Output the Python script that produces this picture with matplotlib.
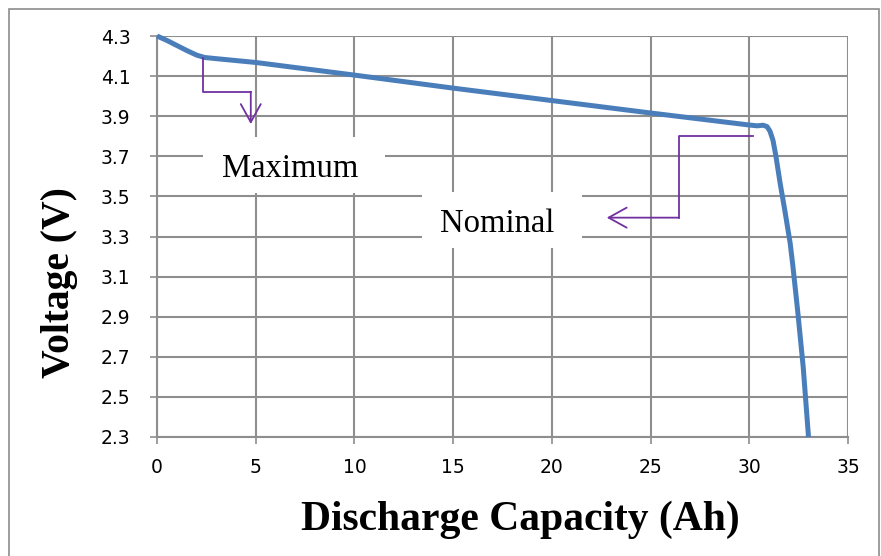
import matplotlib.pyplot as plt
import matplotlib.patches as patches
import numpy as np

# discharge curve
capacity = [0, 0.5, 1.0, 1.5, 2.0, 2.4, 3.0, 5, 10, 15, 20, 25, 30, 30.4, 30.7,
            30.9, 31.05, 31.2, 31.35, 31.56, 31.8, 32.07, 32.2, 32.45, 32.73, 33.0]
voltage = [4.30, 4.278, 4.253, 4.228, 4.205, 4.193, 4.187, 4.168, 4.105, 4.04, 3.978,
           3.916, 3.856, 3.852, 3.855, 3.848, 3.825, 3.78, 3.70, 3.567, 3.43, 3.267,
           3.16, 2.93, 2.65, 2.30]

x_ticks = [0, 5, 10, 15, 20, 25, 30, 35]
y_ticks = [2.3, 2.5, 2.7, 2.9, 3.1, 3.3, 3.5, 3.7, 3.9, 4.1, 4.3]

# annotation paths (Ah, V)
max_path_x = [2.31, 2.31, 4.75, 4.75]
max_path_y = [4.19, 4.022, 4.022, 3.861]
nom_path_x = [30.17, 26.42, 26.42, 22.78]
nom_path_y = [3.803, 3.803, 3.394, 3.394]

grid_col = '#8e8e8e'
purple = '#7030A0'
blue = '#4a7ebb'

fig = plt.figure(figsize=(8.81, 5.56), dpi=100)
ax = fig.add_axes([157 / 881, 1 - 437 / 556, (848 - 157) / 881, (437 - 36) / 556])

# outer chart frame
fig.patches.append(patches.Rectangle((9 / 881, -0.01), 870 / 881, 1 - 9 / 556 + 0.01,
                                     transform=fig.transFigure, fill=False,
                                     edgecolor='#8c8c8c', linewidth=1.2))

ax.set_xlim(0, 35)
ax.set_ylim(2.3, 4.3)
ax.set_xticks(x_ticks)
ax.set_yticks(y_ticks)
ax.set_yticklabels([f'{v:.1f}' for v in y_ticks])
ax.grid(True, color=grid_col, linewidth=1.5, zorder=0)
ax.set_axisbelow(True)
for s in ['top', 'right']:
    ax.spines[s].set_visible(False)
for s in ['left', 'bottom']:
    ax.spines[s].set_color(grid_col)
    ax.spines[s].set_linewidth(1.5)
ax.tick_params(axis='both', direction='out', length=5, width=1.2, color=grid_col,
               labelsize=13.5)
ax.tick_params(axis='y', pad=14)
ax.tick_params(axis='x', pad=10)

ax.plot(capacity, voltage, color=blue, linewidth=3.6, zorder=3, clip_on=False,
        solid_capstyle='butt', solid_joinstyle='round')

# annotation arrows
arrow_style = '->,head_length=1.3,head_width=0.72'
ax.plot(max_path_x[:-1], max_path_y[:-1], color=purple, linewidth=1.3, zorder=4)
ax.annotate('', xy=(max_path_x[-1], max_path_y[-1]), xytext=(max_path_x[-2], max_path_y[-2]),
            arrowprops=dict(arrowstyle=arrow_style, mutation_scale=10,
                            color=purple, lw=1.3, shrinkA=0, shrinkB=0), zorder=4)
ax.plot(nom_path_x[:-1], nom_path_y[:-1], color=purple, linewidth=1.3, zorder=4)
ax.annotate('', xy=(nom_path_x[-1], nom_path_y[-1]), xytext=(nom_path_x[-2], nom_path_y[-2]),
            arrowprops=dict(arrowstyle=arrow_style, mutation_scale=10,
                            color=purple, lw=1.3, shrinkA=0, shrinkB=0), zorder=4)

# labels in white boxes
ax.add_patch(patches.Rectangle((2.33, 3.517), 11.55 - 2.33, 3.796 - 3.517,
                               facecolor='white', edgecolor='none', zorder=2))
ax.add_patch(patches.Rectangle((13.42, 3.243), 21.53 - 13.42, 3.522 - 3.243,
                               facecolor='white', edgecolor='none', zorder=2))
ax.text(6.74, 3.597, 'Maximum', fontsize=23.5, family='Liberation Serif', ha='center',
        va='baseline', zorder=5)
ax.text(17.25, 3.324, 'Nominal', fontsize=23.5, family='Liberation Serif', ha='center',
        va='baseline', zorder=5)

fig.text(520 / 881, 1 - 520 / 556, 'Discharge Capacity (Ah)', fontsize=30,
         family='Liberation Serif', weight='bold', ha='center', va='center')
fig.text(60 / 881, 1 - 283 / 556, 'Voltage (V)', fontsize=28.5, family='Liberation Serif',
         weight='bold', ha='center', va='center', rotation=90)

fig.savefig('out.png', dpi=100)
